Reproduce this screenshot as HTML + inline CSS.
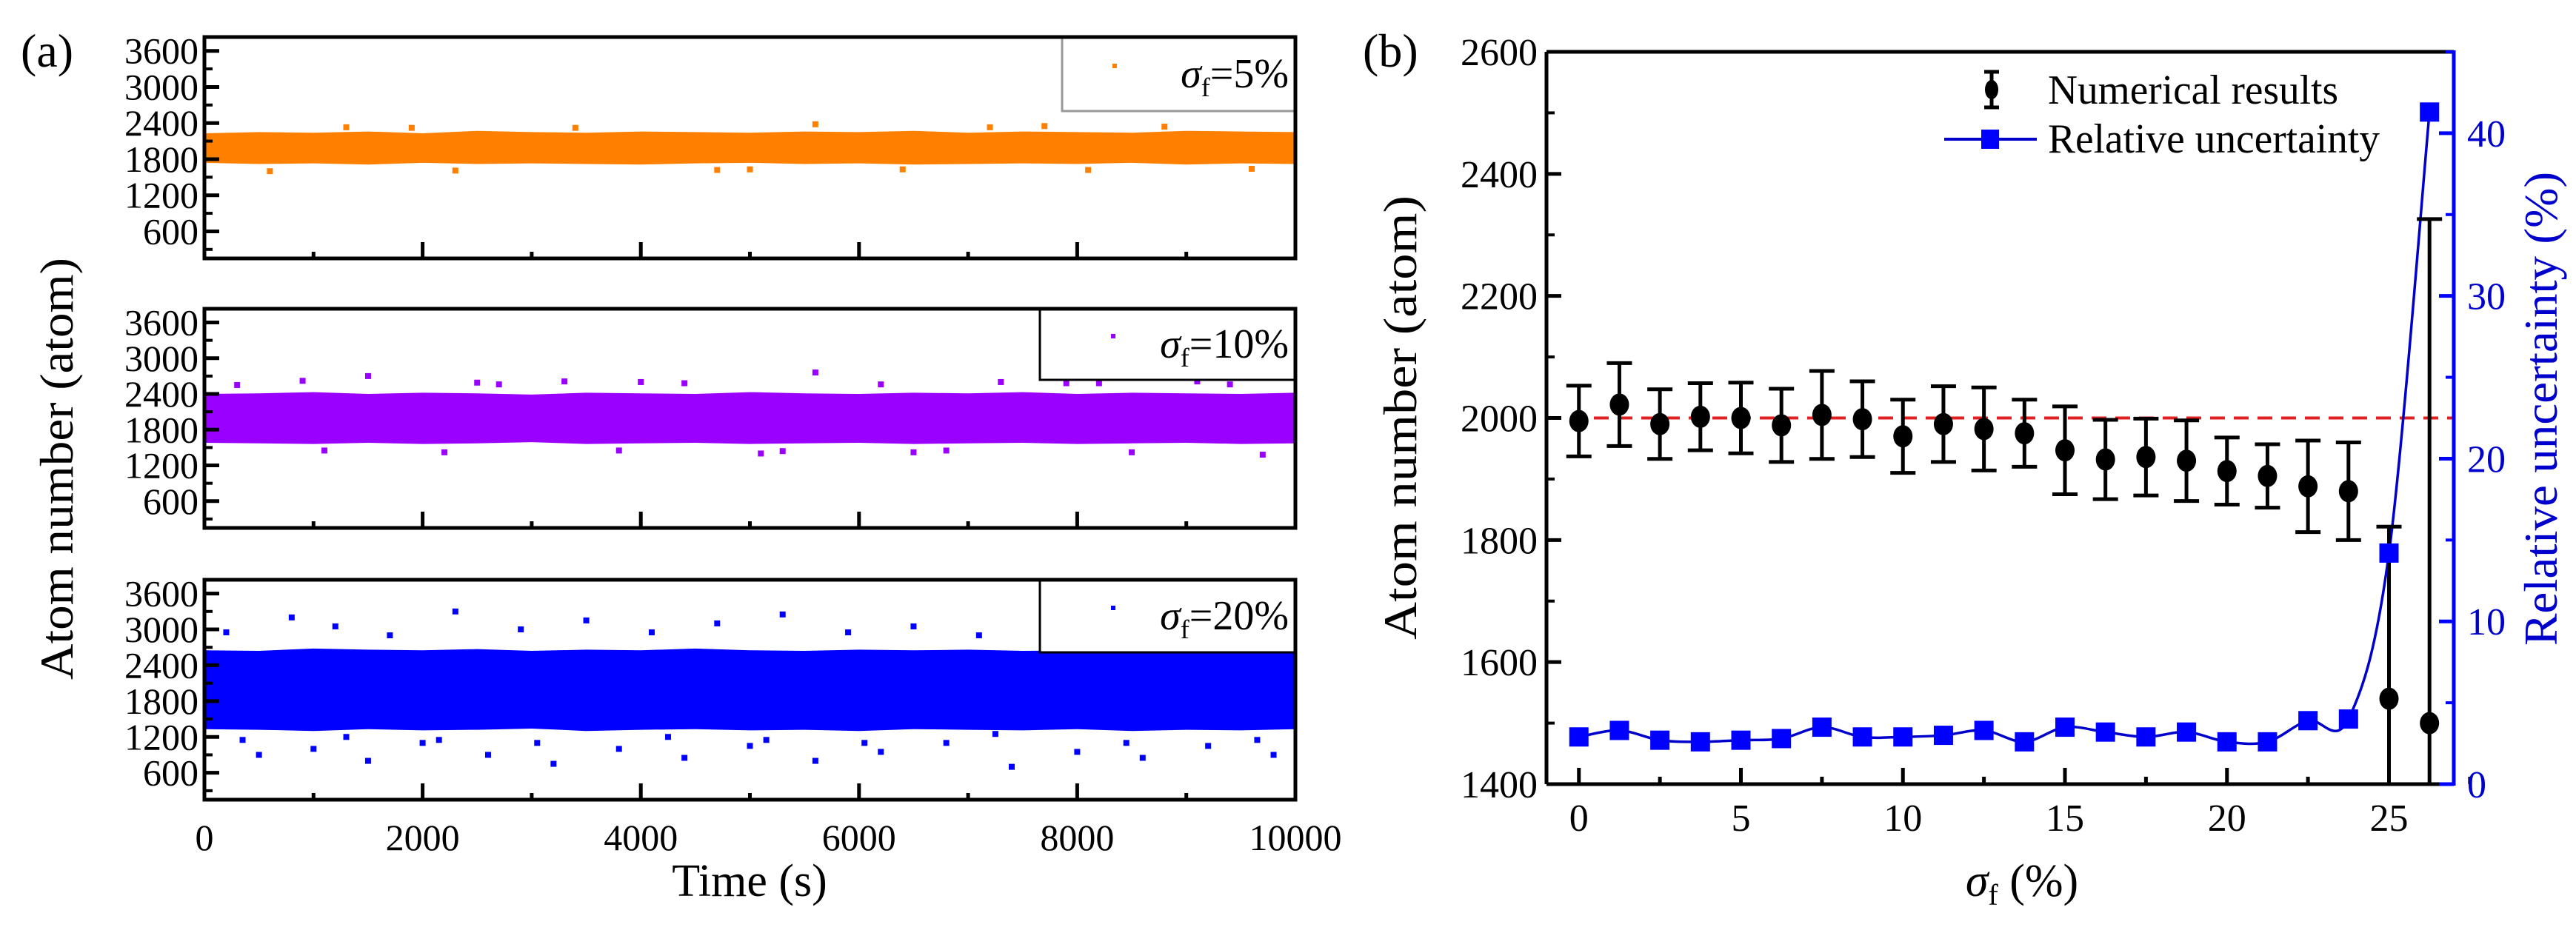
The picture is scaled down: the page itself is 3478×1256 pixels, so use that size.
<!DOCTYPE html>
<html><head><meta charset="utf-8"><style>
html,body{margin:0;padding:0;background:#fff;}
svg{display:block;font-family:"Liberation Serif",serif;}
</style></head><body>
<svg id="fig" width="3478" height="1256" viewBox="0 0 3478 1256" xmlns="http://www.w3.org/2000/svg">
<rect width="3478" height="1256" fill="#fff"/>
<g id="pa"></g>
<g id="pb"></g>
</svg>
<script>
// ---------- Panel (a) data ----------
const aTimes = [0,500,1000,1500,2000,2500,3000,3500,4000,4500,5000,5500,6000,6500,7000,7500,8000,8500,9000,9500,10000];
const aUpper5 = [2230,2250,2240,2260,2230,2270,2250,2240,2260,2250,2240,2260,2250,2270,2240,2260,2250,2240,2270,2260,2250];
const aLower5 = [1740,1720,1730,1710,1740,1720,1730,1720,1710,1730,1740,1720,1730,1710,1720,1730,1720,1740,1710,1730,1720];
const aUpper10 = [2400,2410,2430,2400,2420,2410,2390,2420,2410,2400,2430,2410,2400,2420,2410,2430,2400,2420,2410,2400,2420];
const aLower10 = [1580,1570,1560,1580,1560,1570,1590,1560,1570,1580,1560,1570,1580,1560,1570,1580,1560,1570,1580,1560,1570];
const aUpper20 = [2650,2640,2680,2660,2650,2670,2640,2660,2650,2680,2650,2640,2660,2650,2660,2640,2650,2670,2660,2650,2640];
const aLower20 = [1330,1320,1300,1330,1310,1320,1340,1300,1320,1330,1310,1320,1300,1330,1320,1310,1330,1300,1320,1310,1330];
const aOutT5 = [600,1300,2300,3400,4700,5600,6400,7200,8100,8800,9600,1900,5000,7700];
const aOutV5 = [1600,2330,1610,2320,1620,2380,1630,2330,1620,2340,1640,2320,1630,2350];
const aOutT10 = [300,900,1500,2200,2700,3300,3800,4400,5100,5600,6200,6800,7300,7900,8500,9100,9700,1100,2500,4000,5300,6500,8200,9400];
const aOutV10 = [2550,2620,2700,1420,2560,2610,1450,2580,1400,2760,2560,1450,2600,2580,1420,2610,1380,1450,2590,2600,1440,1420,2580,2560];
const aOutT20 = [200,500,800,1000,1200,1500,1700,2000,2300,2600,2900,3200,3500,3800,4100,4400,4700,5000,5300,5600,5900,6200,6500,6800,7100,7400,7700,8000,8300,8600,8900,9200,9500,9800,350,1300,2150,3050,4250,5150,6050,7250,8450,9650];
const aOutV20 = [2950,900,3200,1000,3050,800,2900,1100,3300,900,3000,750,3150,1000,2950,850,3100,1050,3250,800,2950,950,3050,1100,2900,700,3000,950,3100,850,2950,1050,3000,900,1150,1200,1150,1100,1200,1150,1100,1250,1100,1150];
const aYTicks = [600,1200,1800,2400,3000,3600];
const aXTicks = [0,2000,4000,6000,8000,10000];

// ---------- Panel (b) data ----------
const bSigma = [0,1.25,2.5,3.75,5,6.25,7.5,8.75,10,11.25,12.5,13.75,15,16.25,17.5,18.75,20,21.25,22.5,23.75,25,26.25];
const bMean = [1995,2022,1990,2002,2000,1988,2005,1998,1970,1990,1982,1975,1947,1932,1936,1930,1913,1905,1888,1880,1540,1500];
const bErr = [58,68,57,55,58,60,72,62,60,62,68,55,72,65,63,66,55,52,75,80,282,826];
const bRel = [2.9,3.3,2.7,2.6,2.7,2.8,3.5,2.9,2.9,3.0,3.3,2.6,3.5,3.2,2.9,3.2,2.6,2.6,3.9,4.0,14.2,41.3];
const bYTicks = [1400,1600,1800,2000,2200,2400,2600];
const bXTicks = [0,5,10,15,20,25];
const bRTicks = [0,10,20,30,40];

const NS="http://www.w3.org/2000/svg";
function mk(parent,tag,attrs,text){const e=document.createElementNS(NS,tag);for(const k in attrs)e.setAttribute(k,attrs[k]);if(text!==undefined)e.textContent=text;parent.appendChild(e);return e;}

// ---------- Panel (a) ----------
const pa=document.getElementById('pa');
const AX0=276,AX1=1749,AYMIN=150,AYMAX=3830;
const ax=t=>AX0+(t-0)/(10000)*(AX1-AX0);
const subs=[
 {top:50,bot:349,col:'#ff8000',up:aUpper5,lo:aLower5,ot:aOutT5,ov:aOutV5,lab:'5%',lx:1434,ly1:150,name:'sigma-5'},
 {top:417,bot:713,col:'#9a00ff',up:aUpper10,lo:aLower10,ot:aOutT10,ov:aOutV10,lab:'10%',lx:1404,ly1:513,name:'sigma-10'},
 {top:783,bot:1080,col:'#0000ff',up:aUpper20,lo:aLower20,ot:aOutT20,ov:aOutV20,lab:'20%',lx:1404,ly1:881,name:'sigma-20'}];
subs.forEach((s,si)=>{
  const g=mk(pa,'g',{});
  
  
  const ay=v=>s.bot-(v-AYMIN)/(AYMAX-AYMIN)*(s.bot-s.top);
  // band
  let pts=[];
  aTimes.forEach((t,i)=>pts.push(ax(t)+','+ay(s.up[i])));
  for(let i=aTimes.length-1;i>=0;i--)pts.push(ax(aTimes[i])+','+ay(s.lo[i]));
  const band=mk(g,'polygon',{points:pts.join(' '),fill:s.col});
  
  
  s.ot.forEach((t,i)=>{
    const p=mk(g,'rect',{x:ax(t)-4,y:ay(s.ov[i])-4,width:8,height:8,fill:s.col});
    
    
  });
  // legend box
  const lg=mk(g,'g',{});
  
  
  mk(lg,'rect',{x:s.lx,y:s.top,width:AX1-s.lx,height:s.ly1-s.top,fill:'#fff',stroke:si==0?'#999':'#000','stroke-width':3});
  mk(lg,'rect',{x:s.lx+(si==0?68:96),y:(s.top+s.ly1)/2-14,width:6,height:6,fill:s.col});
  const lt=mk(lg,'text',{x:1740,y:(s.top+s.ly1)/2+18,'font-size':56,'text-anchor':'end'});
  mk(lt,'tspan',{'font-style':'italic'},'σ');
  mk(lt,'tspan',{'font-size':36,dy:12},'f');
  mk(lt,'tspan',{dy:-12},'='+s.lab);
  // frame
  const fr=mk(g,'rect',{x:AX0,y:s.top,width:AX1-AX0,height:s.bot-s.top,fill:'none',stroke:'#000','stroke-width':5});
  
  
  // y ticks
  aYTicks.forEach(v=>{
    mk(g,'line',{x1:AX0,x2:AX0+20,y1:ay(v),y2:ay(v),stroke:'#000','stroke-width':5});
    mk(g,'line',{x1:AX0,x2:AX0+11,y1:ay(v-300),y2:ay(v-300),stroke:'#000','stroke-width':4});
    const t=mk(g,'text',{x:AX0-8,y:ay(v)+17,'font-size':50,'text-anchor':'end'},String(v));
    
    
  });
  aXTicks.forEach((v,i)=>{
    if(i>0&&i<aXTicks.length-1) mk(g,'line',{x1:ax(v),x2:ax(v),y1:s.bot,y2:s.bot-22,stroke:'#000','stroke-width':5});
    if(i<aXTicks.length-1) mk(g,'line',{x1:ax(v+1000),x2:ax(v+1000),y1:s.bot,y2:s.bot-9,stroke:'#000','stroke-width':5});
  });
});
aXTicks.forEach(v=>{
  const t=mk(pa,'text',{x:ax(v),y:1148,'font-size':50,'text-anchor':'middle'},String(v));
  
  
});
const at=mk(pa,'text',{x:1012,y:1210,'font-size':62,'text-anchor':'middle'},'Time (s)');


const ayt=mk(pa,'text',{x:0,y:0,'font-size':64,'text-anchor':'middle',transform:'translate(98,633) rotate(-90)',textLength:570,lengthAdjust:'spacingAndGlyphs'},'Atom number (atom)');


const la=mk(pa,'text',{x:28,y:90,'font-size':64},'(a)');



// ---------- Panel (b) ----------
const pb=document.getElementById('pb');
const BX0=2088,BX1=3313,BT=70,BB=1059;
const bx=v=>BX0+(v+1)/28*(BX1-BX0);
const by=v=>BB-(v-1400)/1200*(BB-BT);
const br=v=>BB-v/45*(BB-BT);
// red reference line
const ref=mk(pb,'line',{x1:BX0,x2:BX1,y1:by(2000),y2:by(2000),stroke:'#e02020','stroke-width':4,'stroke-dasharray':'20 12'});


// relative uncertainty smooth line
const rp=bSigma.map((s,i)=>[bx(s),br(bRel[i])]);
let d='M'+rp[0][0]+','+rp[0][1];
for(let i=0;i<rp.length-1;i++){
  const p0=rp[Math.max(0,i-1)],p1=rp[i],p2=rp[i+1],p3=rp[Math.min(rp.length-1,i+2)];
  const c1=[p1[0]+(p2[0]-p0[0])/6,p1[1]+(p2[1]-p0[1])/6];
  const c2=[p2[0]-(p3[0]-p1[0])/6,p2[1]-(p3[1]-p1[1])/6];
  d+=' C'+c1[0]+','+c1[1]+' '+c2[0]+','+c2[1]+' '+p2[0]+','+p2[1];
}
const rl=mk(pb,'path',{d:d,fill:'none',stroke:'#0000cc','stroke-width':3.5});


// error bars
bSigma.forEach((s,i)=>{
  const g=mk(pb,'g',{});
  
  
  const x=bx(s),yt=Math.max(BT,by(bMean[i]+bErr[i])),yb=Math.min(BB,by(bMean[i]-bErr[i]));
  mk(g,'line',{x1:x,x2:x,y1:yt,y2:yb,stroke:'#000','stroke-width':5});
  if(by(bMean[i]+bErr[i])>=BT) mk(g,'line',{x1:x-17,x2:x+17,y1:yt,y2:yt,stroke:'#000','stroke-width':5});
  if(by(bMean[i]-bErr[i])<=BB) mk(g,'line',{x1:x-17,x2:x+17,y1:yb,y2:yb,stroke:'#000','stroke-width':5});
  mk(g,'ellipse',{cx:x,cy:by(bMean[i]),rx:13,ry:15,fill:'#000'});
});
bSigma.forEach((s,i)=>{
  const r=mk(pb,'rect',{x:bx(s)-13,y:br(bRel[i])-13,width:26,height:26,fill:'#0000ff'});
  
  
});
// frame
mk(pb,'line',{x1:BX0,x2:BX1,y1:BT,y2:BT,stroke:'#000','stroke-width':5});
mk(pb,'line',{x1:BX0,x2:BX0,y1:BT,y2:BB,stroke:'#000','stroke-width':5});
mk(pb,'line',{x1:BX0,x2:BX1,y1:BB,y2:BB,stroke:'#000','stroke-width':5});
const rax=mk(pb,'line',{x1:BX1,x2:BX1,y1:BT-2,y2:BB+2,stroke:'#0000ff','stroke-width':5});


bYTicks.forEach((v,i)=>{
  mk(pb,'line',{x1:BX0,x2:BX0+20,y1:by(v),y2:by(v),stroke:'#000','stroke-width':5});
  if(i<bYTicks.length-1) mk(pb,'line',{x1:BX0,x2:BX0+11,y1:by(v+100),y2:by(v+100),stroke:'#000','stroke-width':4});
  const t=mk(pb,'text',{x:BX0-12,y:by(v)+18,'font-size':52,'text-anchor':'end'},String(v));
  
  
});
bXTicks.forEach(v=>{
  mk(pb,'line',{x1:bx(v),x2:bx(v),y1:BB,y2:BB-22,stroke:'#000','stroke-width':5});
  mk(pb,'line',{x1:bx(v+2.5),x2:bx(v+2.5),y1:BB,y2:BB-10,stroke:'#000','stroke-width':5});
  const t=mk(pb,'text',{x:bx(v),y:1122,'font-size':52,'text-anchor':'middle'},String(v));
  
  
});
bRTicks.forEach(v=>{
  mk(pb,'line',{x1:BX1,x2:BX1-20,y1:br(v),y2:br(v),stroke:'#0000ff','stroke-width':5});
  mk(pb,'line',{x1:BX1,x2:BX1-11,y1:br(v+5),y2:br(v+5),stroke:'#0000ff','stroke-width':4});
  const t=mk(pb,'text',{x:BX1+18,y:br(v)+18,'font-size':52,fill:'#0000cc'},String(v));
  
  
});
const bxt=mk(pb,'text',{x:2730,y:1210,'font-size':62,'text-anchor':'middle'});


mk(bxt,'tspan',{'font-style':'italic'},'σ');
mk(bxt,'tspan',{'font-size':40,dy:12},'f');
mk(bxt,'tspan',{dy:-12},' (%)');
const byt=mk(pb,'text',{x:0,y:0,'font-size':64,'text-anchor':'middle',transform:'translate(1912,564) rotate(-90)',textLength:600,lengthAdjust:'spacingAndGlyphs'},'Atom number (atom)');


const ryt=mk(pb,'text',{x:0,y:0,'font-size':64,'text-anchor':'middle',fill:'#0000cc',transform:'translate(3452,552) rotate(-90)',textLength:640,lengthAdjust:'spacingAndGlyphs'},'Relative uncertainty (%)');


const lb=mk(pb,'text',{x:1840,y:90,'font-size':64},'(b)');


// legend
const lgb=mk(pb,'g',{});


mk(lgb,'line',{x1:2689,x2:2689,y1:97,y2:145,stroke:'#000','stroke-width':5});
mk(lgb,'line',{x1:2679,x2:2699,y1:97,y2:97,stroke:'#000','stroke-width':5});
mk(lgb,'line',{x1:2679,x2:2699,y1:145,y2:145,stroke:'#000','stroke-width':5});
mk(lgb,'ellipse',{cx:2689,cy:121,rx:9,ry:13,fill:'#000'});
mk(lgb,'text',{x:2765,y:140,'font-size':56,textLength:392,lengthAdjust:'spacingAndGlyphs'},'Numerical results');
mk(lgb,'line',{x1:2625,x2:2750,y1:188,y2:188,stroke:'#0000cc','stroke-width':4});
mk(lgb,'rect',{x:2675,y:175,width:24,height:26,fill:'#0000ff'});
mk(lgb,'text',{x:2765,y:206,'font-size':56,textLength:448,lengthAdjust:'spacingAndGlyphs'},'Relative uncertainty');
</script>
</body></html>
